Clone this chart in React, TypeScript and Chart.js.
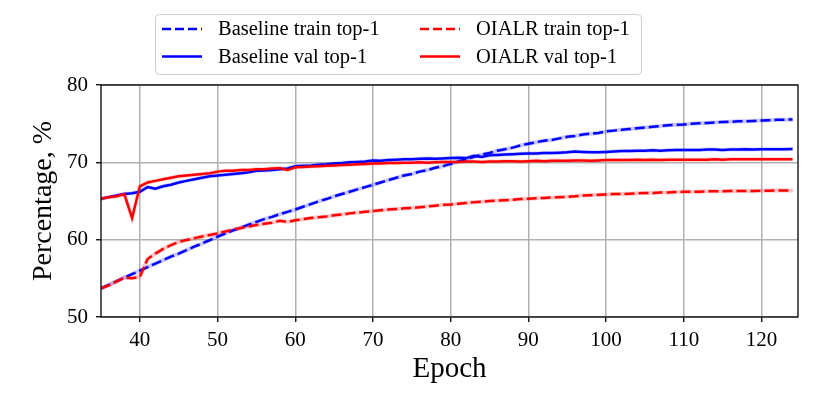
import React, { useEffect, useRef } from "react";
import { Chart, registerables } from "chart.js";

Chart.register(...registerables);

const epochs = [
  35, 36, 37, 38, 39, 40, 41, 42, 43, 44, 45, 46, 47, 48, 49, 50, 51, 52, 53, 54,
  55, 56, 57, 58, 59, 60, 61, 62, 63, 64, 65, 66, 67, 68, 69, 70, 71, 72, 73, 74,
  75, 76, 77, 78, 79, 80, 81, 82, 83, 84, 85, 86, 87, 88, 89, 90, 91, 92, 93, 94,
  95, 96, 97, 98, 99, 100, 101, 102, 103, 104, 105, 106, 107, 108, 109, 110, 111, 112, 113, 114,
  115, 116, 117, 118, 119, 120, 121, 122, 123, 124,
];

const baselineTrain = [
  53.7, 54.15, 54.6, 55.1, 55.55, 56.0, 56.45, 56.9, 57.35, 57.8, 58.2, 58.65, 59.1, 59.5, 59.95, 60.4, 60.8, 61.2, 61.55, 61.95,
  62.3, 62.65, 62.95, 63.3, 63.6, 63.9, 64.25, 64.6, 64.95, 65.25, 65.6, 65.9, 66.2, 66.5, 66.8, 67.1, 67.4, 67.7, 68.0, 68.3,
  68.5, 68.8, 69.0, 69.3, 69.5, 69.8, 70.1, 70.4, 70.7, 71.0, 71.2, 71.5, 71.7, 71.9, 72.2, 72.4, 72.6, 72.8, 72.9, 73.1,
  73.3, 73.4, 73.6, 73.7, 73.8, 74.0, 74.1, 74.2, 74.3, 74.4, 74.5, 74.6, 74.7, 74.8, 74.85, 74.9, 75.0, 75.05, 75.1, 75.15,
  75.2, 75.25, 75.3, 75.3, 75.35, 75.4, 75.45, 75.5, 75.5, 75.55,
];

const baselineVal = [
  65.3, 65.5, 65.7, 65.9, 66.0, 66.2, 66.8, 66.6, 66.9, 67.1, 67.4, 67.6, 67.8, 68.0, 68.2, 68.3, 68.4, 68.5, 68.6, 68.7,
  68.9, 68.95, 69.0, 69.1, 69.2, 69.5, 69.55, 69.6, 69.7, 69.75, 69.85, 69.9, 70.0, 70.05, 70.1, 70.25, 70.2, 70.3, 70.35, 70.4,
  70.4, 70.45, 70.5, 70.45, 70.5, 70.55, 70.6, 70.55, 70.85, 70.7, 70.9, 70.95, 71.0, 71.05, 71.1, 71.15, 71.15, 71.2, 71.2, 71.25,
  71.3, 71.4, 71.35, 71.3, 71.3, 71.35, 71.4, 71.45, 71.45, 71.5, 71.5, 71.55, 71.5, 71.55, 71.6, 71.6, 71.6, 71.6, 71.65, 71.65,
  71.6, 71.65, 71.65, 71.7, 71.65, 71.7, 71.7, 71.7, 71.7, 71.72,
];

const oialrTrain = [
  53.7, 54.1, 54.6, 55.1, 55.0, 55.2, 57.5, 58.2, 58.8, 59.3, 59.7, 59.95, 60.2, 60.4, 60.6, 60.8, 61.05, 61.3, 61.5, 61.7,
  61.9, 62.05, 62.2, 62.45, 62.3, 62.5, 62.65, 62.8, 62.9, 63.0, 63.15, 63.25, 63.4, 63.5, 63.6, 63.7, 63.8, 63.9, 63.95, 64.05,
  64.1, 64.2, 64.3, 64.4, 64.5, 64.55, 64.65, 64.75, 64.85, 64.9, 65.0, 65.05, 65.1, 65.15, 65.25, 65.3, 65.35, 65.4, 65.45, 65.5,
  65.55, 65.6, 65.7, 65.75, 65.8, 65.85, 65.9, 65.9, 65.95, 66.0, 66.05, 66.05, 66.1, 66.1, 66.15, 66.2, 66.2, 66.2, 66.25, 66.25,
  66.25, 66.3, 66.3, 66.3, 66.3, 66.33, 66.33, 66.35, 66.35, 66.35,
];

const oialrVal = [
  65.3, 65.5, 65.6, 65.9, 62.8, 66.9, 67.4, 67.6, 67.8, 68.0, 68.2, 68.3, 68.4, 68.5, 68.6, 68.8, 68.9, 68.9, 69.0, 69.0,
  69.1, 69.1, 69.2, 69.25, 69.0, 69.35, 69.4, 69.45, 69.5, 69.55, 69.6, 69.65, 69.7, 69.75, 69.8, 69.85, 69.85, 69.9, 69.9, 69.95,
  69.95, 70.0, 69.95, 70.0, 70.05, 70.05, 70.05, 70.1, 70.1, 70.05, 70.1, 70.1, 70.15, 70.15, 70.1, 70.15, 70.2, 70.15, 70.2, 70.2,
  70.2, 70.25, 70.25, 70.2, 70.25, 70.3, 70.3, 70.3, 70.3, 70.35, 70.3, 70.35, 70.3, 70.35, 70.35, 70.35, 70.35, 70.35, 70.35, 70.4,
  70.35, 70.4, 70.4, 70.4, 70.4, 70.4, 70.4, 70.4, 70.4, 70.4,
];

const xTicks = [40, 50, 60, 70, 80, 90, 100, 110, 120];
const yTicks = [50, 60, 70, 80];

const seriesLabels = [
  "Baseline train top-1",
  "Baseline val top-1",
  "OIALR train top-1",
  "OIALR val top-1",
];

const SERIF = "'Liberation Serif', 'DejaVu Serif', serif";
const BLUE = "#0000ff";
const RED = "#ff0000";
const DASH = [10, 4];

const toPts = (ys: number[]) => epochs.map((x, i) => ({ x, y: ys[i] }));

export default function App() {
  const ref = useRef<HTMLCanvasElement | null>(null);

  useEffect(() => {
    if (!ref.current) return;

    const legendPlugin = {
      id: "customLegend",
      afterDraw(chart: any) {
        const ctx = chart.ctx as CanvasRenderingContext2D;
        ctx.save();
        ctx.beginPath();
        (ctx as any).roundRect(155.5, 14.5, 486, 60, 4);
        ctx.fillStyle = "rgba(255,255,255,0.8)";
        ctx.fill();
        ctx.strokeStyle = "#cccccc";
        ctx.lineWidth = 1;
        ctx.stroke();

        const entries = [
          { label: seriesLabels[0], color: BLUE, dash: [9, 4], x: 162, y: 29 },
          { label: seriesLabels[1], color: BLUE, dash: [], x: 162, y: 56.5 },
          { label: seriesLabels[2], color: RED, dash: [9, 4], x: 420, y: 29 },
          { label: seriesLabels[3], color: RED, dash: [], x: 420, y: 56.5 },
        ];
        ctx.font = `20.5px ${SERIF}`;
        ctx.textBaseline = "middle";
        ctx.textAlign = "left";
        for (const e of entries) {
          ctx.beginPath();
          ctx.setLineDash(e.dash);
          ctx.strokeStyle = e.color;
          ctx.lineWidth = 2.5;
          ctx.moveTo(e.x, e.y);
          ctx.lineTo(e.x + 40, e.y);
          ctx.stroke();
          ctx.setLineDash([]);
          ctx.fillStyle = "#000";
          ctx.fillText(e.label, e.x + 56, e.y + 1);
        }
        ctx.restore();
      },
    };

    const framePlugin = {
      id: "frame",
      afterDatasetsDraw(chart: any) {
        const { ctx, chartArea } = chart;
        ctx.save();
        ctx.strokeStyle = "#000";
        ctx.lineWidth = 1.3;
        ctx.setLineDash([]);
        ctx.strokeRect(chartArea.left, chartArea.top, chartArea.right - chartArea.left, chartArea.bottom - chartArea.top);
        ctx.restore();
      },
    };

    const line = (data: number[], color: string, dashed: boolean) => ({
      data: toPts(data),
      borderColor: color,
      borderWidth: 2.5,
      borderDash: dashed ? DASH : [],
      pointRadius: 0,
      tension: 0,
      fill: false,
    });
    const halo = (data: number[], color: string) => ({
      data: toPts(data),
      borderColor: color,
      borderWidth: 4,
      pointRadius: 0,
      tension: 0,
      fill: false,
    });

    const chart = new Chart(ref.current, {
      type: "line",
      data: {
        datasets: [
          line(oialrVal, RED, false),
          line(oialrTrain, RED, true),
          line(baselineVal, BLUE, false),
          line(baselineTrain, BLUE, true),
          halo(oialrVal, "rgba(255,0,0,0.18)"),
          halo(oialrTrain, "rgba(255,0,0,0.22)"),
          halo(baselineVal, "rgba(0,0,255,0.18)"),
          halo(baselineTrain, "rgba(0,0,255,0.22)"),
        ] as any,
      },
      options: {
        animation: false,
        responsive: false,
        devicePixelRatio: 1,
        layout: { padding: { top: 85, right: 32, left: 0, bottom: 0 } },
        plugins: { legend: { display: false }, tooltip: { enabled: false } },
        scales: {
          x: {
            type: "linear",
            min: 35,
            max: 124.7,
            afterBuildTicks: (s: any) => {
              s.ticks = xTicks.map((v) => ({ value: v }));
            },
            afterFit: (s: any) => {
              s.height = 98;
            },
            grid: {
              color: "#b0b0b0",
              lineWidth: 1.5,
              tickColor: "#000",
              tickWidth: 1.3,
              tickLength: 5,
            },
            border: { display: false },
            ticks: {
              color: "#000",
              font: { family: SERIF, size: 21 },
              padding: 6,
              maxRotation: 0,
              autoSkip: false,
            },
            title: {
              display: true,
              text: "Epoch",
              color: "#000",
              font: { family: SERIF, size: 29 },
              padding: { top: 0, bottom: 28 },
            },
          },
          y: {
            type: "linear",
            min: 50,
            max: 80,
            afterBuildTicks: (s: any) => {
              s.ticks = yTicks.map((v) => ({ value: v }));
            },
            afterFit: (s: any) => {
              s.width = 101;
            },
            grid: {
              color: "#b0b0b0",
              lineWidth: 1.5,
              tickColor: "#000",
              tickWidth: 1.3,
              tickLength: 5,
            },
            border: { display: false },
            ticks: {
              color: "#000",
              font: { family: SERIF, size: 21 },
              padding: 8,
            },
            title: {
              display: true,
              text: "Percentage, %",
              color: "#000",
              font: { family: SERIF, size: 28 },
              padding: { top: 27, bottom: 0 },
            },
          },
        },
      } as any,
      plugins: [framePlugin, legendPlugin],
    });

    return () => chart.destroy();
  }, []);

  return (
    <div style={{ position: "fixed", left: 0, top: 0, width: 830, height: 415, background: "#fff" }}>
      <canvas ref={ref} width={830} height={415} style={{ width: 830, height: 415, display: "block" }} />
    </div>
  );
}
